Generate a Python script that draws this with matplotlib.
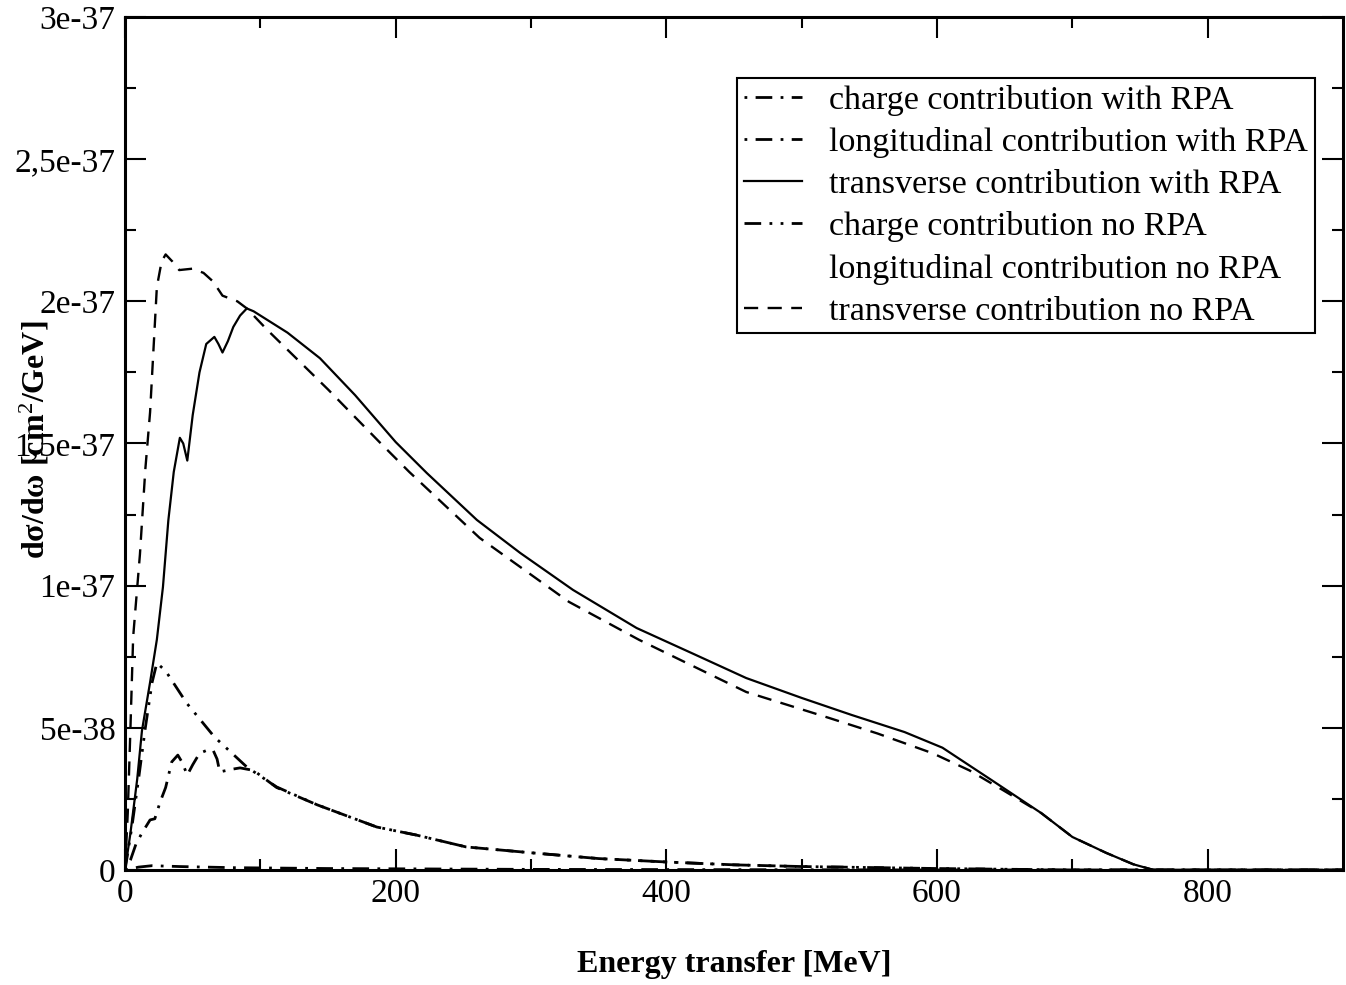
import matplotlib
matplotlib.use("Agg")
import matplotlib.pyplot as plt
import numpy as np

plt.rcParams['font.family'] = ['Liberation Serif', 'DejaVu Serif']
plt.rcParams['mathtext.fontset'] = 'custom'
plt.rcParams['mathtext.rm'] = 'Liberation Serif'
plt.rcParams['mathtext.it'] = 'Liberation Serif:italic'
plt.rcParams['mathtext.bf'] = 'Liberation Serif:bold'

# ---- data (cross sections in cm^2/GeV, energy transfer in MeV) ----
x_tr_rpa = [0, 4, 9, 12.5, 18.5, 23.5, 28, 32, 36, 40.5, 43, 46, 50, 55, 60, 66, 69, 72, 76, 80,
            85, 90, 95, 105, 120, 144, 170, 200, 223, 260, 292, 331, 378, 420, 459, 500, 537,
            576, 604, 640, 677, 700, 725, 745, 760, 900]
y_tr_rpa = [0, 0.13, 0.32, 0.49, 0.66, 0.81, 0.995, 1.23, 1.40, 1.52, 1.50, 1.44, 1.60, 1.75,
            1.85, 1.875, 1.85, 1.82, 1.86, 1.91, 1.95, 1.975, 1.965, 1.935, 1.89, 1.80, 1.67,
            1.505, 1.396, 1.231, 1.115, 0.985, 0.851, 0.76, 0.675, 0.605, 0.545, 0.485, 0.43,
            0.317, 0.20, 0.116, 0.06, 0.02, 0, 0]

x_tr_no = [0, 2, 4, 6, 11, 15, 18.5, 23.5, 27, 30, 35, 40, 50, 58, 65, 72, 83, 90, 105, 150,
           188, 210, 262, 328, 380, 459, 520, 556, 597, 624, 649, 677, 700, 725, 745, 760, 900]
y_tr_no = [0, 0.2, 0.5, 0.82, 1.11, 1.41, 1.61, 2.05, 2.14, 2.165, 2.14, 2.11, 2.115, 2.10,
           2.07, 2.02, 2.0, 1.975, 1.90, 1.69, 1.505, 1.40, 1.168, 0.943, 0.809, 0.626, 0.535,
           0.48, 0.41, 0.35, 0.28, 0.20, 0.116, 0.06, 0.02, 0, 0]

x_ch_rpa = [0, 4, 8, 12.5, 18.5, 22, 26, 30, 34.5, 39, 42, 46, 50, 55, 60, 65, 68, 70, 75, 80,
            85, 95, 112, 142, 186, 215, 252, 301, 350, 400, 450, 500, 600, 700, 900]
y_ch_rpa = [0, 0.035, 0.09, 0.13, 0.176, 0.18, 0.24, 0.29, 0.38, 0.404, 0.38, 0.334, 0.37, 0.41,
            0.42, 0.422, 0.39, 0.345, 0.35, 0.355, 0.359, 0.35, 0.29, 0.229, 0.151, 0.123, 0.081,
            0.06, 0.04, 0.028, 0.018, 0.012, 0.005, 0, 0]

x_ch_no = [0, 5, 10, 15, 20, 23.5, 30, 45.5, 66, 90, 112, 142, 186, 215, 252, 301, 350, 400,
           450, 500, 600, 700, 900]
y_ch_no = [0, 0.15, 0.32, 0.50, 0.66, 0.728, 0.70, 0.587, 0.468, 0.362, 0.292, 0.229, 0.151,
           0.123, 0.081, 0.06, 0.04, 0.028, 0.018, 0.012, 0.005, 0, 0]

x_lo_rpa = [0, 10, 20, 40, 80, 150, 300, 600, 900]
y_lo_rpa = [0, 0.01, 0.015, 0.012, 0.008, 0.005, 0.002, 0, 0]

x_lo_no = [0, 10, 20, 40, 80, 150, 300, 600, 900]
y_lo_no = [0, 0.008, 0.012, 0.010, 0.006, 0.004, 0.001, 0, 0]

scale = 1e-37

labels = ["charge contribution with RPA", "longitudinal contribution with RPA",
          "transverse contribution with RPA", "charge contribution no RPA",
          "longitudinal contribution no RPA", "transverse contribution no RPA"]

xticks = [0, 200, 400, 600, 800]
xticklabels = ["0", "200", "400", "600", "800"]
yticks = [0, 5e-38, 1e-37, 1.5e-37, 2e-37, 2.5e-37, 3e-37]
yticklabels = ["0", "5e-38", "1e-37", "1,5e-37", "2e-37", "2,5e-37", "3e-37"]

fig = plt.figure(figsize=(13.46, 9.85), dpi=100)
ax = fig.add_axes([0.0929, 0.1168, 0.9049, 0.8659])

ax.plot(x_ch_rpa, np.array(y_ch_rpa) * scale, color='black', lw=2.0,
        dashes=[1, 3, 6, 3], label=labels[0])
ax.plot(x_lo_rpa, np.array(y_lo_rpa) * scale, color='black', lw=2.0,
        dashes=[1, 3, 6, 3], label=labels[1])
ax.plot(x_tr_rpa, np.array(y_tr_rpa) * scale, color='black', lw=1.6,
        linestyle='-', label=labels[2])
ax.plot(x_ch_no, np.array(y_ch_no) * scale, color='black', lw=2.0,
        dashes=[6, 3, 1, 3, 1, 3], label=labels[3])
ax.plot(x_lo_no, np.array(y_lo_no) * scale, color='black', lw=1.5,
        linestyle='none', label=labels[4])
ax.plot(x_tr_no, np.array(y_tr_no) * scale, color='black', lw=1.7,
        dashes=[6, 4], label=labels[5])

ax.set_xlim(0, 900)
ax.set_ylim(0, 3e-37)
ax.set_xticks(xticks)
ax.set_xticklabels(xticklabels)
ax.set_yticks(yticks)
ax.set_yticklabels(yticklabels)
ax.set_xticks([100, 300, 500, 700], minor=True)
ax.set_yticks([2.5e-38, 7.5e-38, 1.25e-37, 1.75e-37, 2.25e-37, 2.75e-37], minor=True)

ax.tick_params(which='both', direction='in', top=True, right=True, width=1.5, labelsize=24)
ax.tick_params(which='major', length=15)
ax.tick_params(which='minor', length=8)
ax.tick_params(axis='x', pad=6)
ax.tick_params(axis='y', pad=7)
for s in ax.spines.values():
    s.set_linewidth(2.2)

ax.set_xlabel("Energy transfer [MeV]", fontsize=23, fontweight='bold', labelpad=30)
ax.set_ylabel("d\u03c3/d\u03c9 [cm$^2$/GeV]", fontsize=23, fontweight='bold')
ax.yaxis.set_label_coords(-0.060, 0.504)

leg = ax.legend(loc='upper right', bbox_to_anchor=(0.977, 0.9285), borderaxespad=0,
                fontsize=24.5, frameon=True, fancybox=False, framealpha=1,
                edgecolor='black', handlelength=1.7, handletextpad=0.8,
                labelspacing=0.33, borderpad=0.2)
leg.get_frame().set_linewidth(1.5)

fig.savefig("out.png", dpi=100)
